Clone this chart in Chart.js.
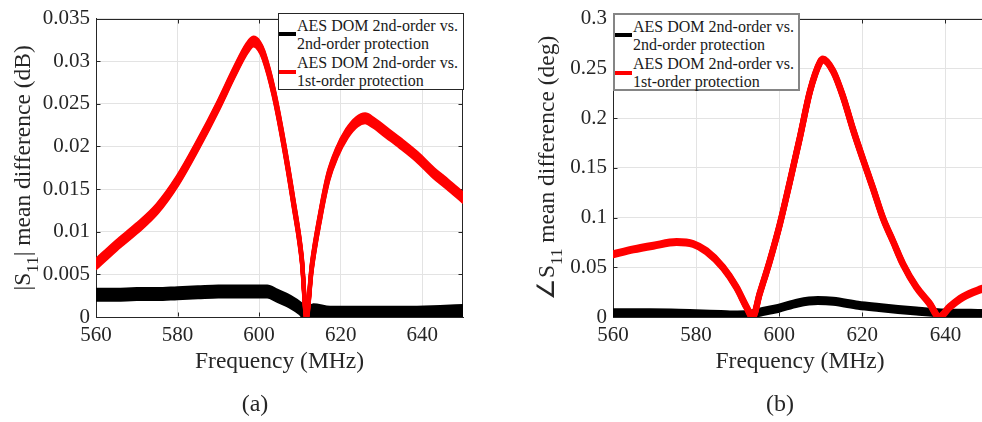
<!DOCTYPE html>
<html>
<head>
<meta charset="utf-8">
<script src="https://cdn.jsdelivr.net/npm/chart.js@4.4.1/dist/chart.umd.min.js"></script>
<style>
  html, body { margin: 0; padding: 0; width: 982px; height: 422px; overflow: hidden; background: #fff; }
  body { position: relative; font-family: "Liberation Serif", "Times New Roman", serif; }
  .wrap { position: absolute; top: 0; height: 422px; }
  .leg { position: absolute; box-sizing: border-box; background: #fff; z-index: 5; }
  .leg .txt { position: absolute; font-size: 16px; line-height: 18.5px; color: #1a1a1a; white-space: nowrap; }
  .leg .sw { position: absolute; height: 3.5px; width: 17px; }
  .cap { position: absolute; top: 388px; font-size: 24px; line-height: 30px; color: #262626; width: 60px; text-align: center; }
</style>
</head>
<body>
<div class="wrap" style="left:0;width:490px;"><canvas id="ca"></canvas></div>
<div class="wrap" style="left:490px;width:510px;"><canvas id="cb"></canvas></div>

<div class="leg" id="legA" style="left:278px;top:13px;width:186px;height:77px;border:1px solid #262626;"></div>
<div class="leg" id="legB" style="left:613px;top:13px;width:187px;height:78px;border:2px solid #858585;"></div>
<div class="cap" id="capA" style="left:225px;"></div>
<div class="cap" id="capB" style="left:750px;"></div>

<script>
// ---------------- data ----------------
const seriesNames = [
  ['AES DOM 2nd-order vs.', '2nd-order protection'],
  ['AES DOM 2nd-order vs.', '1st-order protection']
];
const seriesColors = ['#000000', '#ff0000'];
const captions = ['(a)', '(b)'];
const xTitle = 'Frequency (MHz)';
const yTitleA = ['|S', '11', '| mean difference (dB)'];
const yTitleB = ['\u2220S', '11', ' mean difference (deg)'];

const xTicks = [560, 580, 600, 620, 640];
const yTicksA = [0, 0.005, 0.01, 0.015, 0.02, 0.025, 0.03, 0.035];
const yTickLabelsA = ['0', '0.005', '0.01', '0.015', '0.02', '0.025', '0.03', '0.035'];
const yTicksB = [0, 0.05, 0.1, 0.15, 0.2, 0.25, 0.3];
const yTickLabelsB = ['0', '0.05', '0.1', '0.15', '0.2', '0.25', '0.3'];

// (a) |S11| mean difference (dB)
const freqRedA = [560, 565, 570, 575, 580, 585, 590, 594, 597, 598.6, 600, 601.1, 603.5, 606, 608.4, 610.5, 611.6, 612.9, 615, 617, 619, 621.5, 624, 626, 628, 631.3, 634.6, 638.7, 642.8, 646.1, 650];
const redA = [0.0062, 0.0084, 0.0104, 0.0127, 0.0160, 0.0202, 0.0248, 0.0288, 0.0315, 0.0323, 0.0318, 0.0307, 0.0265, 0.0204, 0.0135, 0.0066, 0.0, 0.0058, 0.0119, 0.0165, 0.0192, 0.0215, 0.0229, 0.0233, 0.0228, 0.0216, 0.0204, 0.0188, 0.0169, 0.0156, 0.0140];
const freqBlackA = [560, 565, 570, 575, 580, 585, 590, 595, 599.4, 602, 604.4, 607.6, 610.1, 611.7, 613.3, 617.4, 624, 630, 636, 644.4, 650];
const blackA = [0.0026, 0.0026, 0.0027, 0.0027, 0.0028, 0.0029, 0.0030, 0.0030, 0.0030, 0.0030, 0.0025, 0.0018, 0.0010, 0.0002, 0.0008, 0.0005, 0.0005, 0.0005, 0.0005, 0.0006, 0.0007];

// (b) angle S11 mean difference (deg)
const freqRedB = [560, 564.9, 569.7, 575.3, 579.3, 582.5, 586.5, 589.7, 592.1, 593.6, 595.3, 597.7, 600.1, 602.5, 605, 607.4, 609.8, 610.5, 613, 615.4, 617.8, 620.2, 622.6, 625, 627.4, 629.8, 633, 636.2, 638.5, 641, 644.2, 648.6, 650];
const redB = [0.063, 0.068, 0.0717, 0.0753, 0.0734, 0.0661, 0.0497, 0.0299, 0.0102, 0.0, 0.0234, 0.056, 0.0925, 0.135, 0.181, 0.227, 0.256, 0.259, 0.247, 0.221, 0.188, 0.158, 0.129, 0.099, 0.076, 0.053, 0.030, 0.0135, 0.0, 0.010, 0.020, 0.028, 0.030];
const freqBlackB = [560, 567, 574, 580, 586, 590, 593.3, 596, 599.7, 604.5, 609.3, 613, 619, 624, 628.6, 633, 638.2, 643, 647.8, 650];
const blackB = [0.0043, 0.0042, 0.0040, 0.0033, 0.0025, 0.0020, 0.0030, 0.0055, 0.0086, 0.0141, 0.0165, 0.0158, 0.0118, 0.0095, 0.0076, 0.0060, 0.0043, 0.0038, 0.0036, 0.0035];

// ---------------- helpers ----------------
const pts = (xs, ys) => xs.map((x, i) => ({ x: x, y: ys[i] }));
const FONT = '"Liberation Serif", "Times New Roman", serif';
const AXIS = '#262626';
Chart.defaults.font.family = FONT;
Chart.defaults.color = AXIS;

// draws the line again with small vertical offsets -> noisy measured band look
const bandPlugin = {
  id: 'band',
  beforeDatasetDraw(chart, args) {
    const ds = chart.data.datasets[args.index];
    const b = ds.band || 0;
    if (!b) return;
    const ctx = chart.ctx, a = chart.chartArea, line = args.meta.dataset;
    ctx.save();
    ctx.beginPath();
    ctx.rect(a.left, a.top, a.right - a.left, a.bottom - a.top);
    ctx.clip();
    for (let dy = -b; dy <= b + 1e-6; dy += 1) {
      ctx.save();
      ctx.translate(0, dy);
      line.draw(ctx, a);
      ctx.restore();
    }
    ctx.restore();
  }
};

// box (top/right axis) with inward ticks
const boxPlugin = {
  id: 'box',
  beforeDatasetsDraw(chart) {
    const ctx = chart.ctx, a = chart.chartArea;
    const xs = chart.scales.x, ys = chart.scales.y;
    const L = Math.round(a.left) + 0.5, R = Math.round(a.right) - 0.5;
    const T = Math.round(a.top) + 0.5, B = Math.round(a.bottom) - 0.5;
    ctx.save();
    ctx.strokeStyle = AXIS;
    ctx.lineWidth = 1;
    ctx.beginPath();
    ctx.moveTo(L, T); ctx.lineTo(R + 0.5, T);
    ctx.moveTo(R, T); ctx.lineTo(R, B);
    const tl = 4;
    xs.ticks.forEach(t => {
      const p = Math.round(xs.getPixelForValue(t.value)) + 0.5;
      ctx.moveTo(p, B); ctx.lineTo(p, B - tl);
      ctx.moveTo(p, T); ctx.lineTo(p, T + tl);
    });
    ys.ticks.forEach(t => {
      const p = Math.round(ys.getPixelForValue(t.value)) + 0.5;
      ctx.moveTo(L, p); ctx.lineTo(L + tl, p);
      ctx.moveTo(R, p); ctx.lineTo(R - tl, p);
    });
    ctx.stroke();
    ctx.restore();
  }
};

// rotated y-axis title with subscript
const yTitlePlugin = {
  id: 'ytitle',
  afterDraw(chart, args, opts) {
    const parts = opts.parts;
    if (!parts) return;
    const ctx = chart.ctx, a = chart.chartArea;
    const big = '23.5px ' + FONT, small = '17px ' + FONT;
    ctx.save();
    const widths = parts.map((t, i) => { ctx.font = i === 1 ? small : big; return ctx.measureText(t).width; });
    const total = widths.reduce((s, w) => s + w, 0);
    ctx.translate(opts.x, (a.top + a.bottom) / 2);
    ctx.rotate(-Math.PI / 2);
    ctx.fillStyle = AXIS;
    ctx.textBaseline = 'alphabetic';
    ctx.textAlign = 'left';
    let cx = -total / 2;
    parts.forEach((t, i) => {
      ctx.font = i === 1 ? small : big;
      ctx.fillText(t, cx, i === 1 ? opts.sub : 0);
      cx += widths[i];
    });
    ctx.restore();
  }
};

function makeChart(id, redPts, blackPts, yTicks, yLabels, yMax, yAxisWidth, padRight, yTitle, yTitleX, bands) {
  return new Chart(document.getElementById(id), {
    type: 'line',
    data: {
      datasets: [
        { label: seriesNames[1].join(' '), data: redPts, borderColor: seriesColors[1], backgroundColor: seriesColors[1],
          borderWidth: bands.redW, band: bands.red, pointRadius: 0, cubicInterpolationMode: 'monotone', order: 0,
          borderCapStyle: 'round', borderJoinStyle: 'round' },
        { label: seriesNames[0].join(' '), data: blackPts, borderColor: seriesColors[0], backgroundColor: seriesColors[0],
          borderWidth: bands.blackW, band: bands.black, pointRadius: 0, cubicInterpolationMode: 'monotone', order: 1,
          borderCapStyle: 'round', borderJoinStyle: 'round' }
      ]
    },
    options: {
      responsive: true,
      maintainAspectRatio: false,
      animation: false,
      events: [],
      layout: { padding: { top: 13, right: padRight, left: 0, bottom: 0 } },
      plugins: {
        legend: { display: false },
        tooltip: { enabled: false },
        ytitle: { parts: yTitle, x: yTitleX, sub: 8 }
      },
      scales: {
        x: {
          type: 'linear', min: 560, max: 650,
          afterBuildTicks: s => { s.ticks = xTicks.map(v => ({ value: v })); },
          afterFit: s => { s.height = 105; },
          ticks: { font: { size: 21 }, color: AXIS, padding: 6, maxRotation: 0, autoSkip: false },
          grid: { color: '#e3e3e3', lineWidth: 1, drawTicks: false },
          border: { color: AXIS, width: 1 },
          title: { display: true, text: xTitle, font: { size: 23.5 }, color: AXIS, padding: { top: 0, bottom: 46 } }
        },
        y: {
          type: 'linear', min: 0, max: yMax,
          afterBuildTicks: s => { s.ticks = yTicks.map(v => ({ value: v })); },
          afterFit: s => { s.width = yAxisWidth; },
          ticks: { font: { size: 21 }, color: AXIS, padding: 6, autoSkip: false,
                   callback: (v) => { const i = yTicks.findIndex(t => Math.abs(t - v) < 1e-9); return i >= 0 ? yLabels[i] : ''; } },
          grid: { color: '#e3e3e3', lineWidth: 1, drawTicks: false },
          border: { color: AXIS, width: 1 }
        }
      }
    },
    plugins: [bandPlugin, boxPlugin, yTitlePlugin]
  });
}

makeChart('ca', pts(freqRedA, redA), pts(freqBlackA, blackA), yTicksA, yTickLabelsA, 0.035, 96, 27, yTitleA, 30,
  { red: 4, redW: 4, black: 5, blackW: 4 });
makeChart('cb', pts(freqRedB, redB), pts(freqBlackB, blackB), yTicksB, yTickLabelsB, 0.3, 123, 13, yTitleB, 64,
  { red: 1, redW: 6, black: 2, blackW: 5 });

// ---------------- legends & captions (HTML text) ----------------
function buildLegend(el, swLeft, txtLeft) {
  const txt = document.createElement('div');
  txt.className = 'txt';
  txt.style.left = txtLeft + 'px';
  txt.style.top = '2.5px';
  txt.innerHTML = seriesNames.map(n => n.join('<br>')).join('<br>');
  el.appendChild(txt);
  [18, 56].forEach((top, i) => {
    const sw = document.createElement('div');
    sw.className = 'sw';
    sw.style.left = swLeft + 'px';
    sw.style.top = top + 'px';
    sw.style.background = seriesColors[i];
    el.appendChild(sw);
  });
}
buildLegend(document.getElementById('legA'), 0, 18);
buildLegend(document.getElementById('legB'), 0, 18);
document.getElementById('capA').textContent = captions[0];
document.getElementById('capB').textContent = captions[1];
</script>
</body>
</html>
